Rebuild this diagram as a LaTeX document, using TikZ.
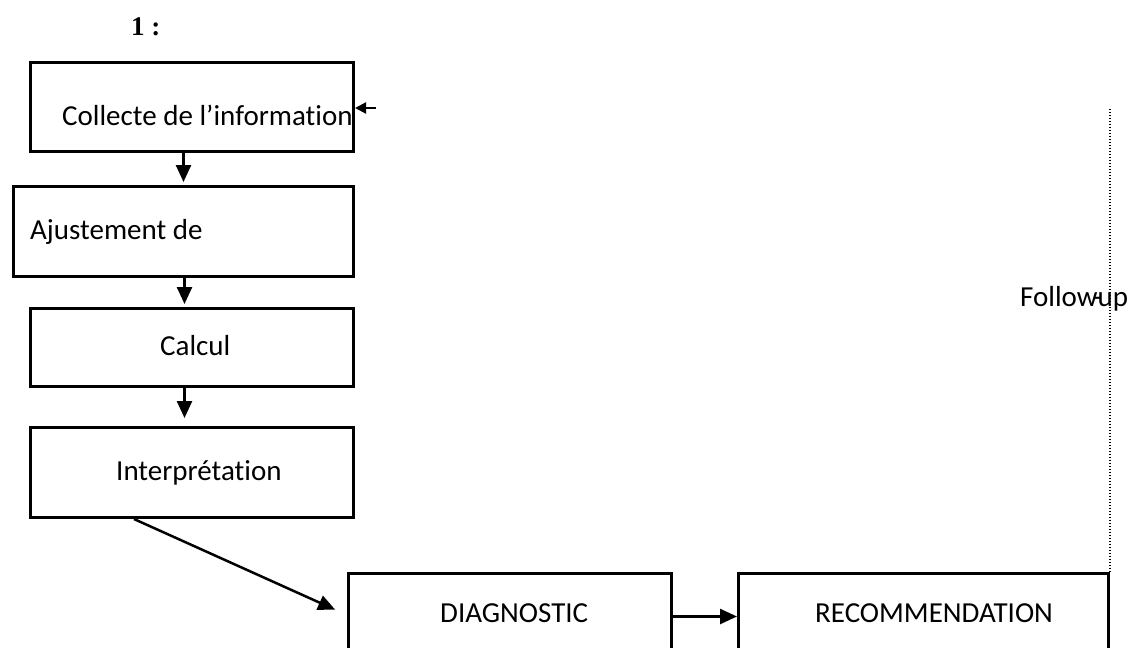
\documentclass[tikz,border=0pt]{standalone}
\usepackage{fontspec}
\setmainfont{Carlito}[Ligatures=NoCommon]
\newfontfamily\headfont{Liberation Serif}
\usetikzlibrary{arrows.meta,calc}

\tikzset{
  stepbox/.style={draw=black, line width=3pt, inner sep=0pt, anchor=north west},
  lbl/.style={inner sep=0pt, anchor=base west, font=\fontsize{29}{34}\selectfont},
  arr/.style={line width=2.5pt, -{Triangle[length=17pt,width=15pt]}},
  followline/.style={line width=1.8pt, dash pattern=on 1.5pt off 1.5pt},
}

\begin{document}
\begin{tikzpicture}[x=1pt,y=-1pt]
  \useasboundingbox (0,0) rectangle (1130,648);
  \clip (0,0) rectangle (1130,648);

  % heading
  \node[inner sep=0pt, anchor=base west, font=\headfont\bfseries\fontsize{27}{31}\selectfont] (head) at (131,35) {1 :};

  % process boxes
  \node[stepbox, minimum width=323pt, minimum height=89pt] (collect) at (29,61) {};
  \node[stepbox, minimum width=340pt, minimum height=90pt] (adjust)  at (12,185) {};
  \node[stepbox, minimum width=323pt, minimum height=78pt] (calc)    at (29,307) {};
  \node[stepbox, minimum width=323pt, minimum height=90pt] (interp)  at (29,426) {};
  \node[stepbox, minimum width=323pt, minimum height=83pt] (diag)    at (347,572) {};
  \node[stepbox, minimum width=370pt, minimum height=83pt] (reco)    at (737,572) {};

  % box texts
  \node[lbl] (tcollect) at (62,125)  {Collecte de l’information};
  \node[lbl] (tadjust)  at (30,239)  {Ajustement de};
  \node[lbl] (tcalc)    at (160,355) {Calcul};
  \node[lbl] (tinterp)  at (116,480) {Interprétation};
  \node[lbl] (tdiag)    at (440,622) {DIAGNOSTIC};
  \node[lbl] (treco)    at (815,622) {RECOMMENDATION};
  \node[lbl] (tfollow)  at (1020,306) {Follow\makebox[0pt]{-}up};

  % vertical flow
  \draw[arr, shorten >=3pt] (adjust.north |- collect.south) -- (adjust.north);
  \draw[arr, shorten >=3pt] ([xshift=1pt]adjust.south) -- ([xshift=1pt]adjust.south |- calc.north);
  \draw[arr, shorten >=8pt] ([xshift=1pt]adjust.south |- calc.south) -- ([xshift=1pt]adjust.south |- interp.north);

  % interpretation to diagnostic
  \draw[arr, shorten >=13pt] ($(interp.south west)!0.322!(interp.south east)$) -- (diag.west);

  % diagnostic to recommendation
  \draw[arr] ([yshift=-1.5pt]diag.east) -- ([yshift=-1.5pt]reco.west);

  % follow-up return path
  \coordinate (fb) at (376,108);
  \draw[followline] (reco.north east) -- (reco.north east |- fb);
  \draw[line width=2pt, -{Triangle[length=11pt,width=11pt]}] (fb) -- (fb -| collect.east);
\end{tikzpicture}
\end{document}
